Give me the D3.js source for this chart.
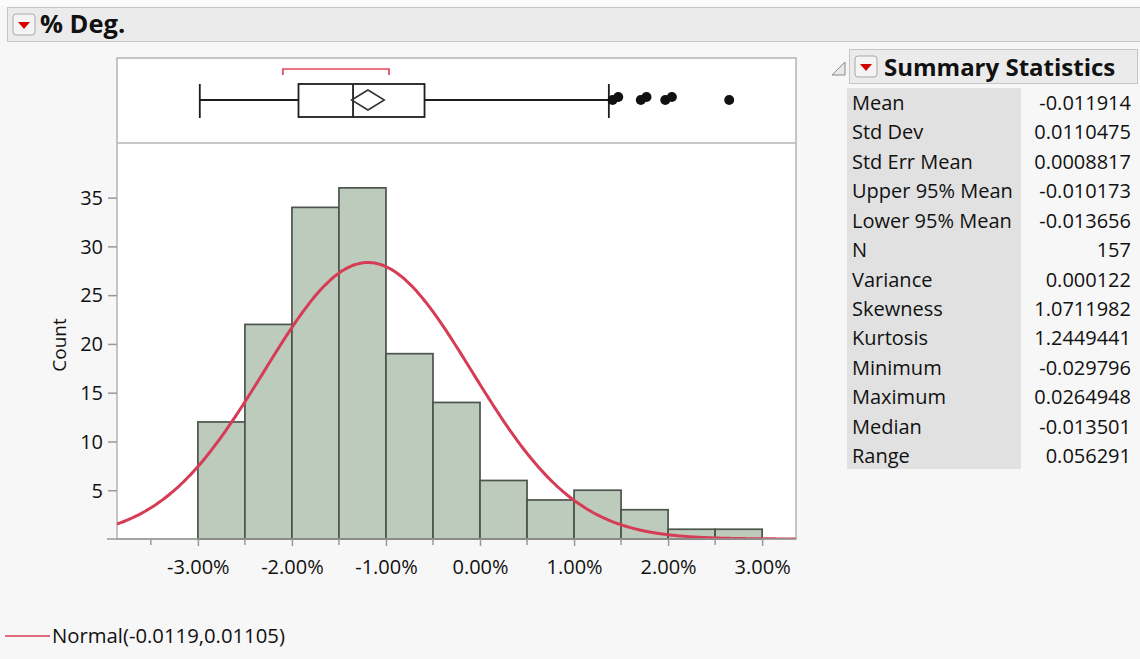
<!DOCTYPE html>
<html>
<head>
<meta charset="utf-8">
<script src="https://cdn.jsdelivr.net/npm/d3@7"></script>
<style>
  body { margin: 0; background: #f7f7f7; font-family: "Open Sans", sans-serif; }
  svg text { font-family: "Open Sans", sans-serif; fill: #111; }
</style>
</head>
<body>
<svg id="chart" width="1140" height="659"></svg>
<script>
// histogram bins (lower edge of each 0.5% bin) and counts
const binStarts = [-0.030, -0.025, -0.020, -0.015, -0.010, -0.005, 0.000, 0.005, 0.010, 0.015, 0.020, 0.025];
const binCounts = [12, 22, 34, 36, 19, 14, 6, 4, 5, 3, 1, 1];
const binWidth = 0.005;

// quantile box plot values
const boxMin = -0.029796;
const boxQ1 = -0.0193;
const boxMedian = -0.013501;
const boxQ3 = -0.0059;
const whiskerHigh = 0.0137;
const outliers = [0.0141, 0.0147, 0.0171, 0.0177, 0.0197, 0.0204, 0.0264948];
const shortestHalf = [-0.02096, -0.00968];

// summary stats
const statLabels = ['Mean', 'Std Dev', 'Std Err Mean', 'Upper 95% Mean', 'Lower 95% Mean', 'N',
  'Variance', 'Skewness', 'Kurtosis', 'Minimum', 'Maximum', 'Median', 'Range'];
const statValues = ['-0.011914', '0.0110475', '0.0008817', '-0.010173', '-0.013656', '157',
  '0.000122', '1.0711982', '1.2449441', '-0.029796', '0.0264948', '-0.013501', '0.056291'];
const fitMean = -0.011914;
const fitSd = 0.0110475;
const fitN = 157;
const upper95 = -0.010173;
const lower95 = -0.013656;

const xTicks = [-0.03, -0.02, -0.01, 0, 0.01, 0.02, 0.03];
const xMinorTicks = [-0.035, -0.025, -0.015, -0.005, 0.005, 0.015, 0.025];
const yTicks = [5, 10, 15, 20, 25, 30, 35];

const svg = d3.select('#chart');
const plot = { left: 117, right: 796, top: 143, bottom: 539, boxTop: 58 };

// ---- header bar ----
svg.append('rect').attr('x', 0).attr('y', 0).attr('width', 1140).attr('height', 6).attr('fill', '#fbfbfb');
svg.append('rect').attr('x', 7.5).attr('y', 7.5).attr('width', 1140).attr('height', 34)
  .attr('fill', '#ebebeb').attr('stroke', '#c6c6c6');

function menuButton(x, y) {
  svg.append('rect').attr('x', x).attr('y', y).attr('width', 22).attr('height', 21).attr('rx', 3)
    .attr('fill', '#f4f4f4').attr('stroke', '#a8a8a8');
  svg.append('path').attr('d', `M${x + 5},${y + 8} L${x + 17},${y + 8} L${x + 11},${y + 15} Z`).attr('fill', '#d40000');
}
menuButton(13, 14);
svg.append('text').attr('x', 40).attr('y', 33).attr('font-size', 25.5).attr('font-weight', 'bold').text('% Deg.');

// ---- scales ----
const x = d3.scaleLinear().domain([-0.0386, 0.0336]).range([plot.left, plot.right]);
const y = d3.scaleLinear().domain([0, 40.6]).range([plot.bottom, plot.top]);

// plot panels
svg.append('rect').attr('x', plot.left).attr('y', plot.boxTop).attr('width', plot.right - plot.left)
  .attr('height', plot.bottom - plot.boxTop).attr('fill', '#fff').attr('stroke', '#b4b4b4').attr('stroke-width', 1.5);
svg.append('line').attr('x1', plot.left).attr('x2', plot.right).attr('y1', plot.top).attr('y2', plot.top)
  .attr('stroke', '#b4b4b4').attr('stroke-width', 1.5);

svg.append('defs').append('clipPath').attr('id', 'histClip').append('rect')
  .attr('x', plot.left).attr('y', plot.top).attr('width', plot.right - plot.left).attr('height', plot.bottom - plot.top);

// ---- bars ----
svg.append('g').selectAll('rect').data(binStarts).join('rect')
  .attr('x', d => x(d))
  .attr('y', (d, i) => y(binCounts[i]))
  .attr('width', d => x(d + binWidth) - x(d))
  .attr('height', (d, i) => y(0) - y(binCounts[i]))
  .attr('fill', '#bccbbc')
  .attr('stroke', '#4c544c')
  .attr('stroke-width', 1.7);

// ---- fitted normal ----
const curveXs = d3.range(x.domain()[0], x.domain()[1] + 0.0001, 0.0002);
const normalCount = v => fitN * binWidth * Math.exp(-0.5 * ((v - fitMean) / fitSd) ** 2) / (fitSd * Math.sqrt(2 * Math.PI));
svg.append('path').datum(curveXs)
  .attr('clip-path', 'url(#histClip)')
  .attr('fill', 'none').attr('stroke', '#d63c55').attr('stroke-width', 3)
  .attr('d', d3.line().x(d => x(d)).y(d => y(normalCount(d))).curve(d3.curveBasis));

// ---- axes ----
const xAxis = svg.append('g').attr('transform', `translate(0,${plot.bottom})`);
xAxis.append('line').attr('x1', 107).attr('x2', plot.right).attr('stroke', '#999').attr('stroke-width', 1.5);
xAxis.call(d3.axisBottom(x).tickValues(xTicks).tickFormat(d3.format('.2%')).tickSize(7).tickSizeOuter(0));
xAxis.selectAll('.domain').remove();
xAxis.selectAll('.tick line').attr('stroke', '#999').attr('stroke-width', 1.5);
xAxis.selectAll('.tick text').attr('font-size', 20).attr('dy', 0).attr('y', 35)
  .text(d => d3.format('.2%')(d).replace('−', '-'));
xAxis.append('g').selectAll('line').data(xMinorTicks).join('line')
  .attr('x1', d => x(d)).attr('x2', d => x(d)).attr('y1', 0).attr('y2', 6)
  .attr('stroke', '#999').attr('stroke-width', 1.5);

const yAxis = svg.append('g').attr('transform', `translate(${plot.left},0)`);
yAxis.call(d3.axisLeft(y).tickValues(yTicks).tickSize(9).tickSizeOuter(0));
yAxis.selectAll('.domain').remove();
yAxis.selectAll('.tick line').attr('stroke', '#999').attr('stroke-width', 1.5);
yAxis.selectAll('.tick text').attr('font-size', 20).attr('x', -14).attr('dy', '0.34em');

svg.append('text').attr('transform', 'translate(66,345) rotate(-90)').attr('text-anchor', 'middle')
  .attr('font-size', 19).text('Count');

// ---- outlier box plot ----
const bp = svg.append('g');
const cy = 100;
const ink = '#1e1e1e';
bp.append('line').attr('x1', x(boxMin)).attr('x2', x(whiskerHigh)).attr('y1', cy).attr('y2', cy).attr('stroke', ink).attr('stroke-width', 1.8);
[boxMin, whiskerHigh].forEach(v => bp.append('line').attr('x1', x(v)).attr('x2', x(v)).attr('y1', 84).attr('y2', 118)
  .attr('stroke', ink).attr('stroke-width', 1.8));
bp.append('rect').attr('x', x(boxQ1)).attr('y', 84).attr('width', x(boxQ3) - x(boxQ1)).attr('height', 33)
  .attr('fill', '#fff').attr('stroke', ink).attr('stroke-width', 1.8);
bp.append('line').attr('x1', x(boxMedian)).attr('x2', x(boxMedian)).attr('y1', 84).attr('y2', 117).attr('stroke', ink).attr('stroke-width', 1.8);
const mx = x(fitMean);
bp.append('path')
  .attr('d', `M${x(lower95)},${cy} L${mx},${cy - 10} L${x(upper95)},${cy} L${mx},${cy + 10} Z`)
  .attr('fill', 'none').attr('stroke', '#333').attr('stroke-width', 1.5);
bp.append('path')
  .attr('d', `M${x(shortestHalf[0])},75 V69 H${x(shortestHalf[1])} V75`)
  .attr('fill', 'none').attr('stroke', '#e0485f').attr('stroke-width', 1.7);
bp.selectAll('circle').data(outliers).join('circle')
  .attr('cx', d => x(d)).attr('cy', (d, i) => (i % 2 ? cy - 3 : cy)).attr('r', 5).attr('fill', '#111');

// ---- summary statistics panel ----
svg.append('path').attr('d', 'M832,75 L845,62 L845,75 Z').attr('fill', '#e8e8e8').attr('stroke', '#8a8a8a');
svg.append('rect').attr('x', 849.5).attr('y', 49.5).attr('width', 288).attr('height', 34)
  .attr('fill', '#ebebeb').attr('stroke', '#c6c6c6');
menuButton(855, 56);
svg.append('text').attr('x', 884).attr('y', 76).attr('font-size', 24).attr('font-weight', 'bold').text('Summary Statistics');

const rowY = d3.scalePoint().domain(statLabels).range([103, 456]);
svg.append('rect').attr('x', 847).attr('y', 88).attr('width', 174).attr('height', 381).attr('fill', '#e1e1e1');
const rows = svg.append('g').selectAll('g').data(statLabels).join('g')
  .attr('transform', d => `translate(0,${rowY(d)})`);
rows.append('text').attr('x', 852).attr('dy', '0.35em').attr('font-size', 20).text(d => d);
rows.append('text').attr('x', 1131).attr('dy', '0.35em').attr('font-size', 20).attr('text-anchor', 'end')
  .text((d, i) => statValues[i]);

// ---- legend ----
svg.append('line').attr('x1', 5).attr('x2', 50).attr('y1', 636).attr('y2', 636).attr('stroke', '#d63c55').attr('stroke-width', 1.6);
svg.append('text').attr('x', 52).attr('y', 636).attr('dy', '0.35em').attr('font-size', 20.3)
  .text(`Normal(${fitMean.toFixed(4)},${fitSd.toFixed(5)})`);
</script>
</body>
</html>
